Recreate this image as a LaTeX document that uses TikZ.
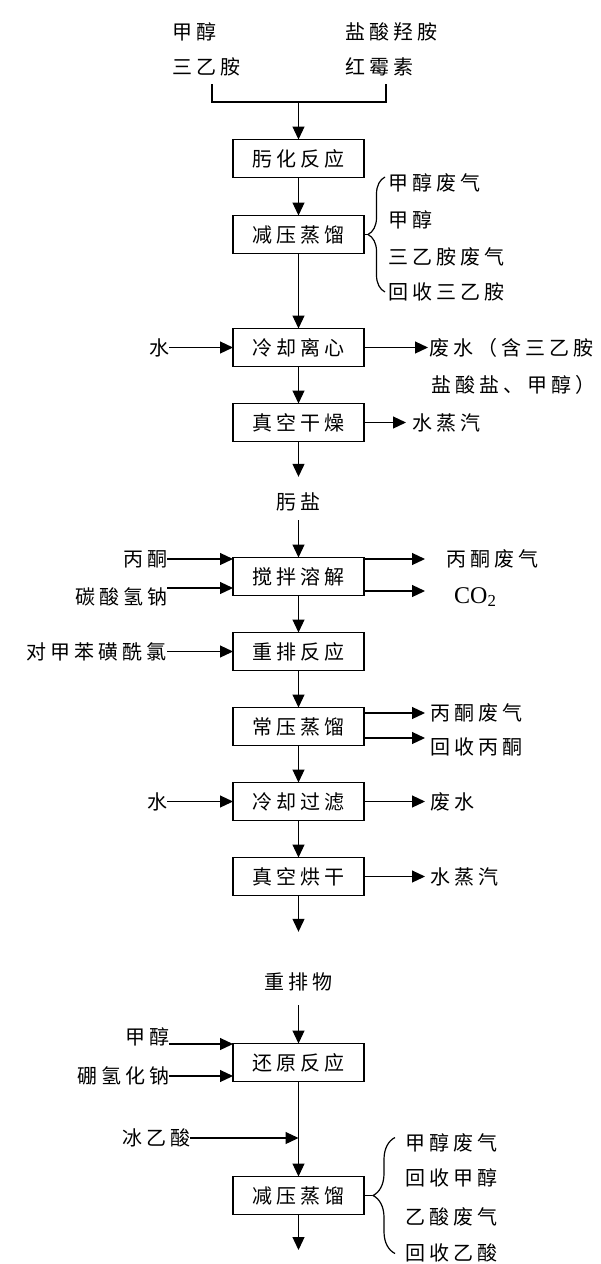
\documentclass[tikz,border=0pt]{standalone}
\usepackage{fontspec}
\setmainfont{Liberation Serif}
\newfontfamily\hanzi[LetterSpace=20]{Noto Sans CJK SC}
\usepackage{tikz}
\usetikzlibrary{arrows.meta, positioning, decorations.pathreplacing}
\def\flowwidth{1.2pt}
\def\stagewidth{131pt}
\def\stageheight{38pt}
\def\stagegap{37pt}
\def\textsize{20}
\def\tiplength{13pt}
\def\tipwidth{12pt}
\tikzset{
	% materials and products
	matter/.style={
		font=\hanzi\fontsize{\textsize}{24}\selectfont,
		inner sep=0pt,
		outer sep=0pt,
	},
	% process stages
	stage/.style={
		shape=rectangle,
		draw,
		line width=\flowwidth,
		minimum width=\stagewidth,
		minimum height=\stageheight,
		matter,
	},
	% connections
	flow/.style={
		line width=\flowwidth,
		-{Triangle[length=\tiplength, width=\tipwidth]},
	},
	pipe/.style={
		line width=\flowwidth,
	},
	% side braces
	sidebrace/.style={
		line width=\flowwidth,
		decorate,
		decoration={brace, amplitude=#1},
	},
}

\begin{document}
\begin{tikzpicture}[x=1pt, y=-1pt]
		\useasboundingbox (0,0) rectangle (600,1264);

		% Raw materials
		\node[matter, anchor=west] (methanol) at (172,32) {甲醇};
		\node[matter, anchor=west] (triethylamine) at (172,67) {三乙胺};
		\node[matter, anchor=west] (hydroxylamine) at (345,32) {盐酸羟胺};
		\node[matter, anchor=west] (erythromycin) at (345,67) {红霉素};
		\coordinate (mix_left) at (212,84);
		\coordinate (mix_right) at (386,84);
		\coordinate (mix_join) at (298.5,102);

		% Oximation
		\node[
			stage
		] (oximation) at (298.5,158.5) {肟化反应};
		%
		\node[
			stage,
			below=38pt of oximation,
		] (vacuum_dist) {减压蒸馏};
		%
		\node[
			stage,
			below=75pt of vacuum_dist,
		] (cool_centrifuge) {冷却离心};
		%
		\node[
			stage,
			below=\stagegap of cool_centrifuge,
		] (vacuum_dry) {真空干燥};
		%
		\node[matter] (oxime_salt) at (298.5,502) {肟盐};

		% Vacuum distillation outputs
		\coordinate (brace_one) at (368,234.5);
		\node[matter, anchor=west] (methanol_gas) at (388,183) {甲醇废气};
		\node[matter, anchor=west] (methanol_back) at (388,220) {甲醇};
		\node[matter, anchor=west] (amine_gas) at (388,257) {三乙胺废气};
		\node[matter, anchor=west] (amine_back) at (388,292) {回收三乙胺};

		% Centrifuge and drying side streams
		\node[matter, anchor=east] (water_one) at (169,347.5) {水};
		\node[matter, anchor=west] (wastewater_one) at (429,347.5) {废水（含三乙胺};
		\node[matter, anchor=west] (wastewater_two) at (431,385) {盐酸盐、甲醇）};
		\node[matter, anchor=west] (steam_one) at (412,422.5) {水蒸汽};

		% Rearrangement
		\node[
			stage
		] (stir_dissolve) at (298.5,576.5) {搅拌溶解};
		%
		\node[
			stage,
			below=\stagegap of stir_dissolve,
		] (rearrangement) {重排反应};
		%
		\node[
			stage,
			below=\stagegap of rearrangement,
		] (atm_dist) {常压蒸馏};
		%
		\node[
			stage,
			below=\stagegap of atm_dist,
		] (cool_filter) {冷却过滤};
		%
		\node[
			stage,
			below=\stagegap of cool_filter,
		] (vacuum_bake) {真空烘干};
		%
		\node[matter] (rearranged) at (298.5,982) {重排物};

		% Rearrangement side streams
		\node[matter, anchor=east] (acetone) at (167,559) {丙酮};
		\node[matter, anchor=east] (bicarbonate) at (167,597) {碳酸氢钠};
		\node[matter, anchor=west] (acetone_gas_one) at (446,559) {丙酮废气};
		\node[
			anchor=west,
			font=\fontsize{24}{28}\selectfont,
			inner sep=0pt,
		] (carbon_dioxide) at (454,597) {CO\textsubscript{2}};
		\node[matter, anchor=east] (tosyl_chloride) at (167,651.5) {对甲苯磺酰氯};
		\node[matter, anchor=west] (acetone_gas_two) at (430,713) {丙酮废气};
		\node[matter, anchor=west] (acetone_back) at (430,747) {回收丙酮};
		\node[matter, anchor=east] (water_two) at (167,801.5) {水};
		\node[matter, anchor=west] (wastewater_three) at (430,801.5) {废水};
		\node[matter, anchor=west] (steam_two) at (430,876.5) {水蒸汽};

		% Reduction
		\node[
			stage
		] (reduction) at (298.5,1062.5) {还原反应};
		%
		\node[
			stage,
			below=95pt of reduction,
		] (vacuum_dist_two) {减压蒸馏};
		%
		\coordinate (product) at (298.5,1250);
		\coordinate (brace_two) at (372,1195.5);
		\node[matter, anchor=east] (methanol_two) at (169,1037) {甲醇};
		\node[matter, anchor=east] (borohydride) at (169,1076) {硼氢化钠};
		\node[matter, anchor=east] (acetic_acid) at (190,1138) {冰乙酸};
		\node[matter, anchor=west] (methanol_gas_two) at (405,1143) {甲醇废气};
		\node[matter, anchor=west] (methanol_back_two) at (405,1178) {回收甲醇};
		\node[matter, anchor=west] (acid_gas) at (405,1217) {乙酸废气};
		\node[matter, anchor=west] (acid_back) at (405,1253) {回收乙酸};

		% Connections
		%% feeds -> oximation
		\draw[pipe] (mix_left) -- (mix_left |- mix_join) -- (mix_right |- mix_join) -- (mix_right);
		\draw[flow] (mix_join) -- (oximation);
		%% main line, first part
		\draw[flow] (oximation) -- (vacuum_dist);
		\draw[flow] (vacuum_dist) -- (cool_centrifuge);
		\draw[flow] (cool_centrifuge) -- (vacuum_dry);
		\draw[flow, shorten >=16pt] (vacuum_dry) -- (oxime_salt);
		\draw[flow, shorten <=9pt] (oxime_salt) -- (stir_dissolve);
		%% distillation -> brace
		\draw[pipe] (vacuum_dist) -- (brace_one);
		\draw[sidebrace=17pt] (385,292) -- (385,177);
		%% side streams, first part
		\draw[flow] (water_one) -- (cool_centrifuge);
		\draw[flow, shorten >=1pt] (cool_centrifuge) -- (wastewater_one);
		\draw[flow, shorten >=6pt] (vacuum_dry) -- (steam_one);
		%% main line, second part
		\draw[flow] (stir_dissolve) -- (rearrangement);
		\draw[flow] (rearrangement) -- (atm_dist);
		\draw[flow] (atm_dist) -- (cool_filter);
		\draw[flow] (cool_filter) -- (vacuum_bake);
		\draw[flow, shorten >=41pt] (vacuum_bake) -- (rearranged);
		\draw[flow, shorten <=14pt] (rearranged) -- (reduction);
		%% side streams, second part
		\draw[flow] (acetone) -- (acetone -| stir_dissolve.west);
		\draw[flow] ([yshift=9pt]bicarbonate.east) -- ([yshift=9pt]bicarbonate.east -| stir_dissolve.west);
		\draw[flow, shorten >=21pt] (acetone_gas_one -| stir_dissolve.east) -- (acetone_gas_one.west);
		\draw[flow, shorten >=29pt] ([yshift=6pt]carbon_dioxide.west -| stir_dissolve.east) -- ([yshift=6pt]carbon_dioxide.west);
		\draw[flow] (tosyl_chloride) -- (tosyl_chloride -| rearrangement.west);
		\draw[flow, shorten >=5pt] (acetone_gas_two -| atm_dist.east) -- (acetone_gas_two.west);
		\draw[flow, shorten >=5pt] ([yshift=9pt]acetone_back.west -| atm_dist.east) -- ([yshift=9pt]acetone_back.west);
		\draw[flow] (water_two) -- (cool_filter);
		\draw[flow, shorten >=5pt] (cool_filter) -- (wastewater_three);
		\draw[flow, shorten >=5pt] (vacuum_bake) -- (steam_two);
		%% reduction and last distillation
		\draw[flow] ([yshift=-7pt]methanol_two.east) -- ([yshift=-7pt]methanol_two.east -| reduction.west);
		\draw[flow] (borohydride) -- (borohydride -| reduction.west);
		\draw[flow] (acetic_acid) -- (acetic_acid -| reduction.south);
		\draw[flow] (reduction) -- (vacuum_dist_two);
		\draw[flow] (vacuum_dist_two) -- (product);
		\draw[pipe] (vacuum_dist_two) -- (brace_two);
		\draw[sidebrace=22pt] (395,1253.5) -- (395,1137.5);
	\end{tikzpicture}
\end{document}
